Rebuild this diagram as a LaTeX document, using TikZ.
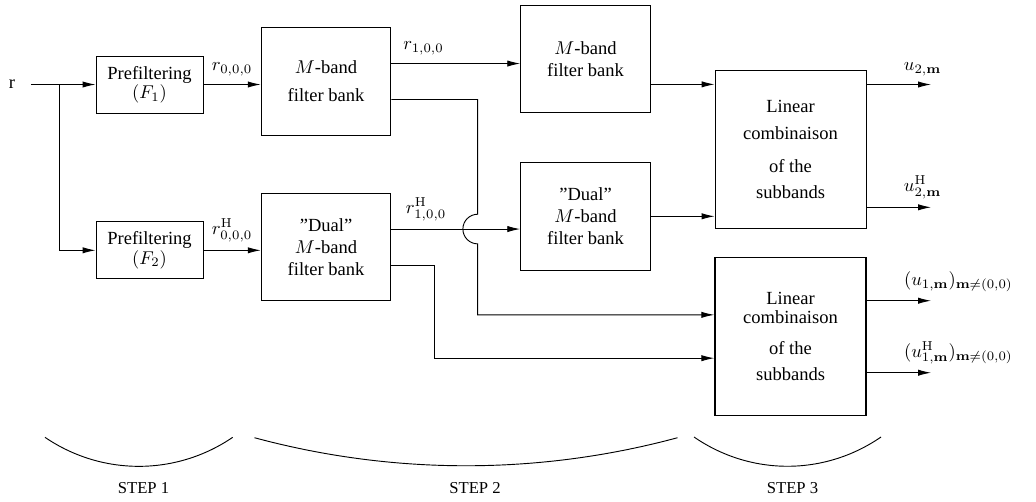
\documentclass[tikz,border=0pt]{standalone}
\usepackage{amsmath, amssymb}
\usepackage[no-math]{fontspec}
\setmainfont{Liberation Serif}
\usetikzlibrary{arrows.meta}
\tikzset{>={Latex[length=7pt,width=3.4pt]}}
\tikzset{
	box/.style={draw, inner sep=0pt, align=center},
	pfbox/.style={box, minimum width=57.8pt, minimum height=30.8pt},
	fbbox/.style={box, minimum width=70pt, minimum height=58pt},
	lcbox/.style={box, minimum width=81.5pt, minimum height=85.3pt}
}

\begin{document}
\begin{tikzpicture}[x=0.54pt,y=-0.54pt,line width=0.5pt]
			\useasboundingbox (0,0) rectangle (1036,501);
			% step 1
			\node (r) at (12,84.5) {r};
			\node[pfbox] (f1) at (149.5,84.5) {Prefiltering\\[-1.6pt]$(F_1)$};
			\node[pfbox] (f2) at (149.5,250.3) {Prefiltering\\[-1.6pt]$(F_2)$};
			\coordinate (split) at (59.3,84.5);
			\draw[->] ([xshift=5pt]r.east) -- (f1.west);
			\draw[->] (split) |- (f2.west);
			% step 2
			\node[fbbox] (mb1) at (326,81.5) {$M$-band\\[3pt]filter bank};
			\node[fbbox] (dmb1) at (326,247) {''Dual''\\$M$-band\\filter bank};
			\node[fbbox] (mb2) at (585.5,59) {$M$-band\\filter bank};
			\node[fbbox] (dmb2) at (585.5,216.3) {''Dual''\\$M$-band\\filter bank};
			\draw[->] (f1.east) -- (f1.east -| mb1.west) node[midway,above=1pt] {$r_{0,0,0}$};
			\draw[->] (f2.east) -- (f2.east -| dmb1.west) node[midway,above=1pt] {$r^{\mathrm{H}}_{0,0,0}$};
			\coordinate (mb1a) at ([yshift=9.7pt]mb1.east);
			\coordinate (mb1b) at ([yshift=-9.7pt]mb1.east);
			\coordinate (dmb1a) at ([yshift=9.7pt]dmb1.east);
			\coordinate (dmb1b) at ([yshift=-9.7pt]dmb1.east);
			\coordinate (mb2o) at ([yshift=-13.7pt]mb2.east);
			\coordinate (hop) at (477.7,0 |- dmb1a);
			\draw[->] (mb1a) -- (mb1a -| mb2.west) node[pos=0.25,above=1pt] {$r_{1,0,0}$};
			\draw[->] (dmb1a) -- (dmb1a -| dmb2.west) node[pos=0.27,above=1pt] {$r^{\mathrm{H}}_{1,0,0}$};
			% step 3
			\node[lcbox] (lc1) at (790.5,149.5) {Linear\\[3pt]combinaison\\[5.4pt]of the\\[2.4pt]subbands};
			\node[lcbox,thick] (lc2) at (790.5,336.5) {Linear\\[-1.6pt]combinaison\\[4.6pt]of the\\[2pt]subbands};
			\draw[->] (mb2o) -- (mb2o -| lc1.west);
			\draw[->] (dmb2.east) -- (dmb2.east -| lc1.west);
			\draw[->] (mb1b) -| ([yshift=8pt]hop) arc[start angle=90,end angle=270,radius=8pt] |- ([yshift=11.7pt]lc2.west);
			\draw[->] (dmb1b) -- ++(43,0) |- ([yshift=-11.7pt]lc2.west);
			\coordinate (u2) at (931,84.5);
			\coordinate (u2h) at (931,207.3);
			\coordinate (u1) at (931,300.7);
			\coordinate (u1h) at (931,372.7);
			\draw[->] (u2 -| lc1.east) -- (u2) node[pos=0.45,above right=1pt] {$u_{2,\mathbf{m}}$};
			\draw[->] (u2h -| lc1.east) -- (u2h) node[pos=0.45,above right=1pt] {$u^{\mathrm{H}}_{2,\mathbf{m}}$};
			\draw[->] (u1 -| lc2.east) -- (u1) node[pos=0.45,above right=1pt] {$(u_{1,\mathbf{m}})_{\mathbf{m}\neq(0,0)}$};
			\draw[->] (u1h -| lc2.east) -- (u1h) node[pos=0.45,above right=1pt] {$(u^{\mathrm{H}}_{1,\mathbf{m}})_{\mathbf{m}\neq(0,0)}$};
			% steps
			\draw (45,437.3) .. controls (101.7,476) and (176,476) .. (232.7,437.3);
			\draw (254.5,437.7) .. controls (393,475.1) and (539,475.1) .. (677.5,437.7);
			\draw (694,437) .. controls (750.7,476) and (824.3,476) .. (881,437);
			\foreach \x/\n in {143.5/1,475/2,792.5/3}
			\node[font=\small] (step\n) at (\x,488.5) {STEP \n};
		\end{tikzpicture}
\end{document}
